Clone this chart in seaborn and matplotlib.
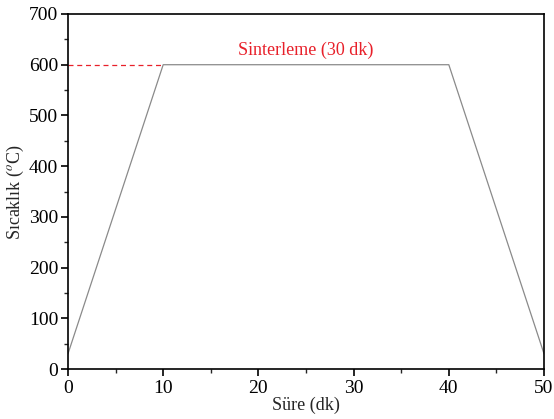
import numpy as np
import pandas as pd
import matplotlib
matplotlib.use("Agg")
import matplotlib.pyplot as plt
import seaborn as sns
from matplotlib.ticker import MultipleLocator

# sintering profile: time (min) vs temperature (C)
time_min = [0, 10, 40, 50]
temp_c = [30, 600, 600, 30]
hold_temp = 600
hold_start = 10
label_text = "Sinterleme (30 dk)"

sns.set_theme(style="ticks")
plt.rcParams['font.family'] = ['Liberation Serif', 'DejaVu Serif']
plt.rcParams['mathtext.fontset'] = 'stix'

df = pd.DataFrame({"t": time_min, "T": temp_c})

fig = plt.figure(figsize=(5.54, 4.19), dpi=100)
ax = fig.add_axes([0.1227, 0.1193, 0.8593, 0.8473])

sns.lineplot(data=df, x="t", y="T", ax=ax, color="#8a8a8a", lw=0.9)
ax.plot([0, hold_start], [hold_temp, hold_temp], color="#e8202a", ls=(0, (4, 3)), lw=0.9)
ax.text(25, 612, label_text, color="#e8202a", ha="center", va="bottom", fontsize=13)

ax.set_xlim(0, 50)
ax.set_ylim(0, 700)
ax.xaxis.set_major_locator(MultipleLocator(10))
ax.xaxis.set_minor_locator(MultipleLocator(5))
ax.yaxis.set_major_locator(MultipleLocator(100))
ax.yaxis.set_minor_locator(MultipleLocator(50))
ax.tick_params(which="major", direction="out", length=5, width=1.2, labelsize=14, colors="black", pad=3)
ax.tick_params(axis="y", which="major", pad=2)
ax.tick_params(which="minor", direction="out", length=3, width=1.0)
for s in ax.spines.values():
    s.set_linewidth(1.2)
    s.set_color("black")

ax.set_xlabel("Süre (dk)", fontsize=13, labelpad=0)
ax.set_ylabel("Sıcaklık ($^o$C)", fontsize=13, labelpad=2)

fig.savefig("out.png", dpi=100)
